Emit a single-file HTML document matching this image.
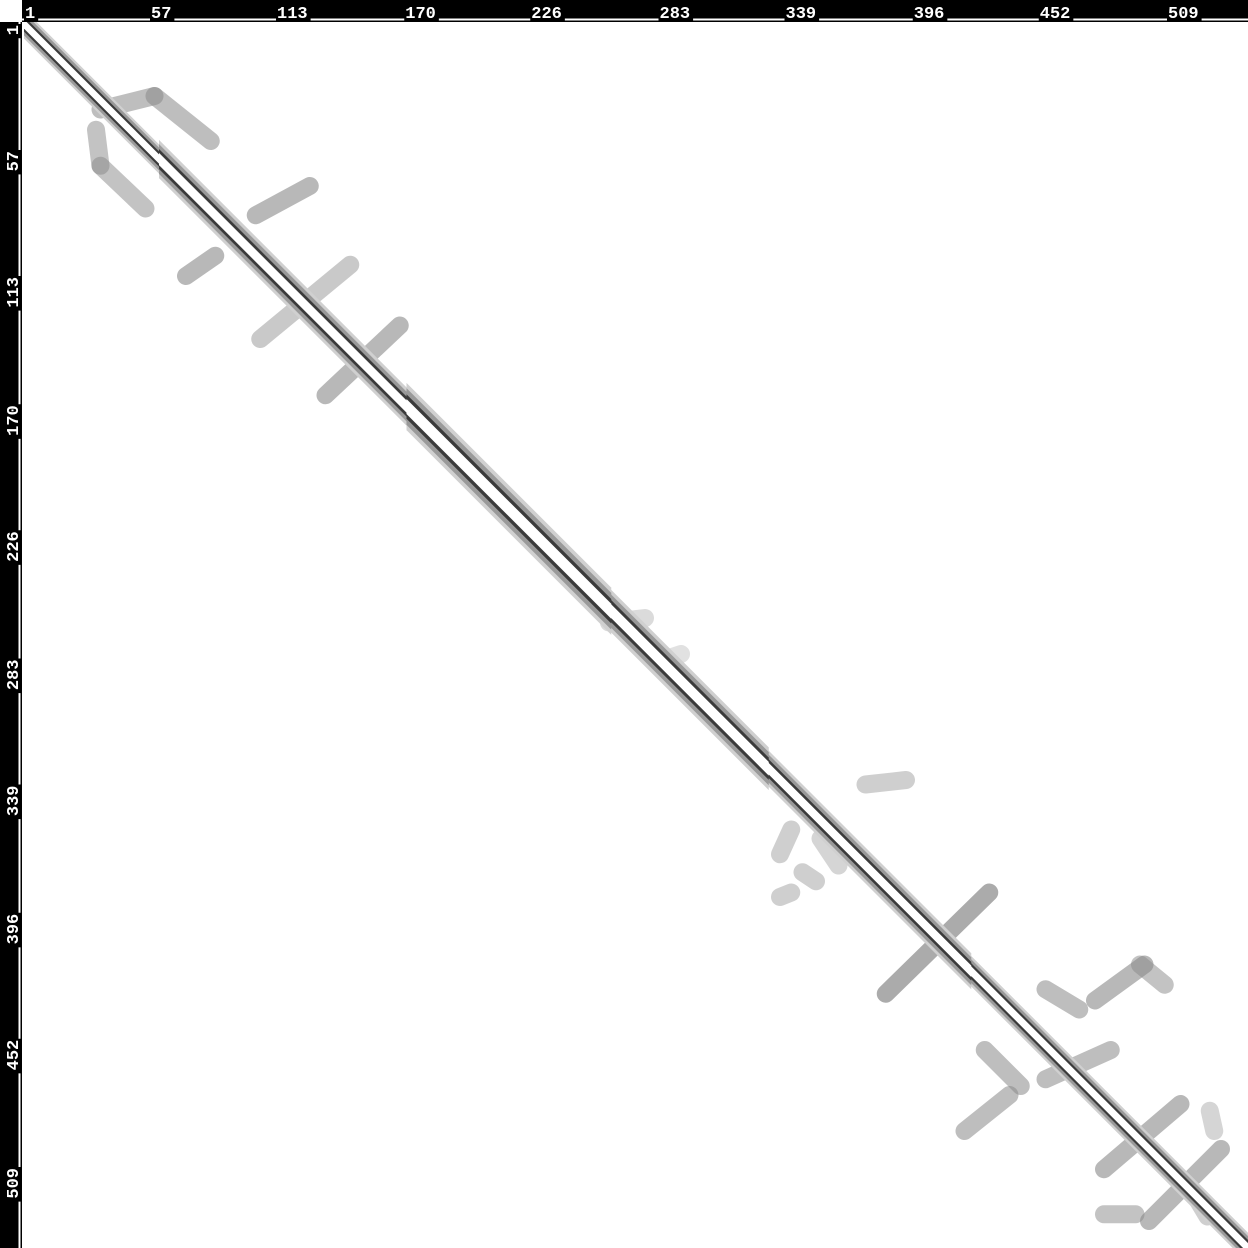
<!DOCTYPE html>
<html><head><meta charset="utf-8"><style>
html,body{margin:0;padding:0;background:#fff;}
svg{display:block;}
text{font-family:"Liberation Mono",monospace;font-weight:bold;font-size:17px;fill:#fff;}
</style></head><body>
<svg id="chart" width="1248" height="1248" viewBox="0 0 1248 1248">
<rect x="0" y="0" width="1248" height="1248" fill="#fff"/>
<g id="marks"></g>
<rect x="0" y="0" width="1248" height="22" fill="#000"/>
<rect x="0" y="0" width="22" height="1248" fill="#000"/>
<rect x="0" y="0" width="22" height="22" fill="#fff"/>
<g id="axes"></g>
</svg>
<script>
const ticks = [1,57,113,170,226,283,339,396,452,509];
const nRes = 544;
// diagonal band segments: start residue, end residue, half-width (residues, vertical offset)
const diagStart = [0,60,170,260,330,420];
const diagEnd   = [60,170,260,330,420,544];
const diagWidth = [6.5,8.5,10.5,9.5,8.0,6.8];
// off-diagonal contacts: x1,y1,x2,y2 (residues) and shade
const cx1 = [34,58,32,34,103,72,105,134,383,454,476,496,427,454,418,480,500,480,336,336,346,374,354,527,260,286,520];
const cy1 = [38,32,47,63,85,112,140,165,431,429,434,418,456,469,492,509,532,529,369,388,377,338,362,483,266,282,520];
const cx2 = [58,83,34,54,127,85,145,167,429,469,498,507,443,483,438,514,532,494,341,341,352,392,362,529,276,292,526];
const cy2 = [32,52,63,82,72,103,107,134,386,438,418,427,472,456,476,480,500,529,358,386,381,336,374,492,264,280,530];
const cShade = [0.55,0.55,0.5,0.5,0.6,0.6,0.45,0.6,0.7,0.55,0.6,0.5,0.55,0.55,0.55,0.6,0.6,0.5,0.4,0.4,0.4,0.4,0.35,0.35,0.3,0.25,0.4];
const x0 = 24, scale = 1224 / nRes;
function sx(r){ return x0 + r * scale; }
function sy(r){ return x0 + r * scale; }
const NS = "http://www.w3.org/2000/svg";
const marks = document.getElementById('marks');
for (let k = 0; k < cx1.length; k++) {
  const l = document.createElementNS(NS, 'line');
  l.setAttribute('x1', sx(cx1[k])); l.setAttribute('y1', sy(cy1[k]));
  l.setAttribute('x2', sx(cx2[k])); l.setAttribute('y2', sy(cy2[k]));
  l.setAttribute('stroke', '#888'); l.setAttribute('stroke-opacity', cShade[k]);
  l.setAttribute('stroke-width', 18); l.setAttribute('stroke-linecap', 'round');
  
  
  marks.appendChild(l);
}
const layerCols = ['#d0d0d0', '#999', '#3a3a3a', '#fff'];
const layerFrac = [1, 0.78, 0.52, 0.32];
for (let li = 0; li < layerCols.length; li++) {
  for (let k = 0; k < diagStart.length; k++) {
    const d = diagWidth[k] * scale * layerFrac[li];
    const a = diagStart[k], b = diagEnd[k] + (k < diagStart.length - 1 ? 1 : 0);
    const p = document.createElementNS(NS, 'polygon');
    const pts = [[sx(a), sy(a) - d], [sx(b), sy(b) - d], [sx(b), sy(b) + d], [sx(a), sy(a) + d]];
    p.setAttribute('points', pts.map(q => q.join(',')).join(' '));
    p.setAttribute('fill', layerCols[li]);
    
    
    marks.appendChild(p);
  }
}
const axes = document.getElementById('axes');
const hl = document.createElementNS(NS, 'line');
hl.setAttribute('x1', 22); hl.setAttribute('y1', 19.5); hl.setAttribute('x2', 1248); hl.setAttribute('y2', 19.5);
hl.setAttribute('stroke', '#fff'); hl.setAttribute('stroke-width', 2);


axes.appendChild(hl);
const vl = document.createElementNS(NS, 'line');
vl.setAttribute('x1', 19.5); vl.setAttribute('y1', 22); vl.setAttribute('x2', 19.5); vl.setAttribute('y2', 1248);
vl.setAttribute('stroke', '#fff'); vl.setAttribute('stroke-width', 2);


axes.appendChild(vl);
for (const t of ticks) {
  const p = sx(t - 1);
  const w = String(t).length * 10.2 + 4;
  const bg = document.createElementNS(NS, 'rect');
  bg.setAttribute('x', p); bg.setAttribute('y', 17); bg.setAttribute('width', w); bg.setAttribute('height', 5); bg.setAttribute('fill', '#000');
  axes.appendChild(bg);
  const tx = document.createElementNS(NS, 'text');
  tx.setAttribute('x', p + 1); tx.setAttribute('y', 18); tx.textContent = t;
  
  
  axes.appendChild(tx);
  const bg2 = document.createElementNS(NS, 'rect');
  bg2.setAttribute('x', 17); bg2.setAttribute('y', p); bg2.setAttribute('width', 5); bg2.setAttribute('height', w); bg2.setAttribute('fill', '#000');
  axes.appendChild(bg2);
  const ty = document.createElementNS(NS, 'text');
  ty.setAttribute('transform', 'translate(18,' + (p + 1) + ') rotate(-90)');
  ty.setAttribute('text-anchor', 'end');
  ty.textContent = t;
  
  
  axes.appendChild(ty);
}
</script>
</body></html>
